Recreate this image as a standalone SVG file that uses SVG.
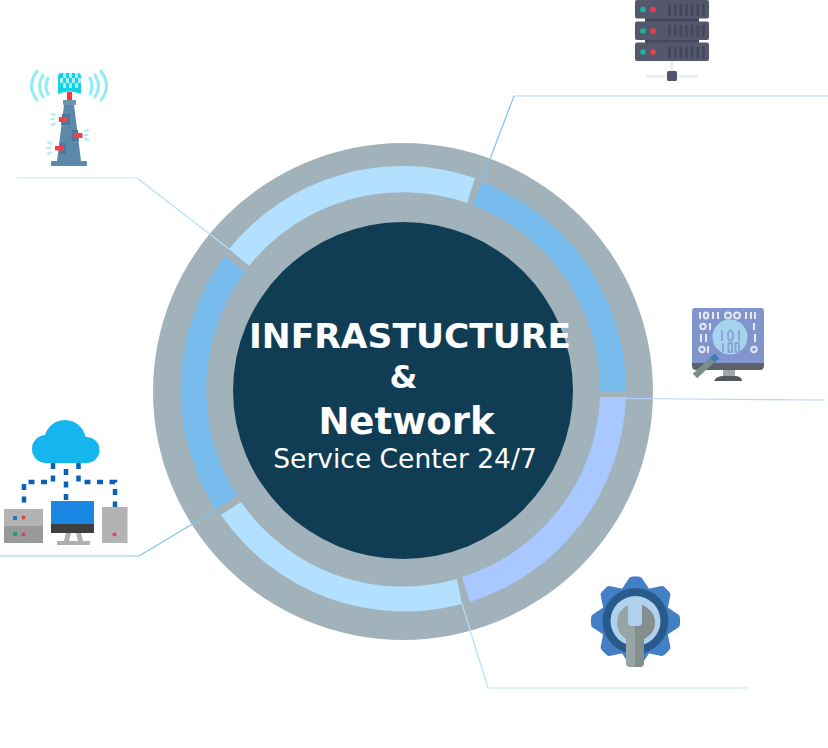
<svg xmlns="http://www.w3.org/2000/svg" width="828" height="748" viewBox="0 0 828 748">
<defs><style>
.t{font-family:"DejaVu Sans",sans-serif;fill:#fff;text-anchor:middle}
.b{font-weight:700}
.w{fill:none;stroke:#8feef5;stroke-width:3;stroke-linecap:round}
.w2{fill:none;stroke:#a5f0f6;stroke-width:2;stroke-linecap:round}
.d{fill:none;stroke:#0a62b8;stroke-width:4.500;stroke-dasharray:6 6.500}
.c{fill:none;stroke-width:1.200}
.bar{fill:#45485a}
</style>
<path id="tooth" d="M-15 -30L-7 -42Q-6 -44.500 -3 -44.500H3Q6 -44.500 7 -42L15 -30Z" fill="#437fc5"/>
</defs>
<rect width="828" height="748" fill="#fff"/>
<g id="ring">
<ellipse cx="403" cy="391.500" rx="250" ry="248.500" fill="#a2b2ba"/>
<path id="seg-top" d="M229 249A223 223 0 0 1 475 178L467 203A197 197 0 0 0 249 266Z" fill="#b3e0ff"/>
<path id="seg-right" d="M482 182A223 223 0 0 1 626 392L600 392A197 197 0 0 0 472 205Z" fill="#78bdee"/>
<path id="seg-lower-right" d="M626 397A223 223 0 0 1 470 602L462 577A197 197 0 0 0 600 397Z" fill="#a8c8ff"/>
<path id="seg-bottom" d="M462 604A223 223 0 0 1 221 515L241 502A197 197 0 0 0 457 579Z" fill="#b3e0ff"/>
<path id="seg-left" d="M216 510A223 223 0 0 1 225 256L245 272A197 197 0 0 0 237 495Z" fill="#78bdee"/>
<ellipse cx="403" cy="390.500" rx="170" ry="168.500" fill="#113d54"/>
</g>
<g id="connectors">
<path class="c" stroke="#80c3f0" d="M482 180L514 96"/>
<path class="c" stroke="#a8d7f7" d="M514 96H828"/>
<path class="c" stroke="#b3e0ff" d="M229 249L137 178"/>
<path class="c" stroke="#bfe4fb" d="M137 178H17"/>
<path class="c" stroke="#80c3f0" d="M216 510L139 556"/>
<path class="c" stroke="#93cdf3" d="M139 556H0"/>
<path class="c" stroke="#bcd3ff" d="M626 398.500L825 400"/>
<path class="c" stroke="#b3e0ff" d="M462 604L488 688"/>
<path class="c" stroke="#c4e6fc" d="M488 688H748"/>
</g>
<g id="title">
<text class="t b" x="410" y="348" font-size="34.500">INFRASTUCTURE</text>
<text class="t b" x="403.500" y="388" font-size="32">&amp;</text>
<text class="t b" x="406.500" y="434" font-size="37">Network</text>
<text class="t" x="405" y="468" font-size="26.500">Service Center 24/7</text>
</g>
<g id="server">
<rect class="bar" x="645" y="17" width="54" height="6"/>
<rect class="bar" x="645" y="38" width="54" height="6"/>
<rect x="670.500" y="61" width="3" height="12" fill="#eceeef"/>
<rect x="646" y="75" width="52" height="3" rx="1.500" fill="#eceeef"/>
<rect x="667" y="71" width="10" height="10" rx="1.500" fill="#51546a"/>
<g fill="#54586d">
<rect x="635" y="0" width="74" height="18.500" rx="2"/>
<rect x="635" y="21.500" width="74" height="18.500" rx="2"/>
<rect x="635" y="42.500" width="74" height="18.500" rx="2"/>
</g>
<g fill="#1ab49f"><circle cx="643" cy="9.500" r="2.800"/><circle cx="643" cy="31" r="2.800"/><circle cx="643" cy="52" r="2.800"/></g>
<g fill="#ee4048"><circle cx="653" cy="9.500" r="2.800"/><circle cx="653" cy="31" r="2.800"/><circle cx="653" cy="52" r="2.800"/></g>
<g stroke="#45485a" stroke-width="2.700" fill="none">
<path d="M669.500 4v12M675.200 4v12M680.800 4v12M686.500 4v12M692.200 4v12M697.800 4v12M703.500 4v12"/>
<path d="M669.500 25v12M675.200 25v12M680.800 25v12M686.500 25v12M692.200 25v12M697.800 25v12M703.500 25v12"/>
<path d="M669.500 46.500v12M675.200 46.500v12M680.800 46.500v12M686.500 46.500v12M692.200 46.500v12M697.800 46.500v12M703.500 46.500v12"/>
</g>
</g>
<g id="tower">
<path class="w" d="M37 71Q26 86 37 100M43 75Q36 86 43 97M48 78Q44 86 48 94"/>
<path class="w" d="M101 71Q112 86 101 100M95 75Q102 86 95 97M90 78Q94 86 90 94"/>
<path d="M61 73H78Q81 73 81 77V94Q69 89 58 94V77Q58 73 61 73Z" fill="#13d2e4"/>
<path d="M63 73h3v5h-3zM69 73h3v5h-3zM75 73h3v5h-3zM60 78h3v5h-3zM66 78h3v5h-3zM72 78h3v5h-3zM78 78h3v5h-3zM63 83h3v5h-3zM69 83h3v5h-3zM75 83h3v5h-3z" fill="#a9eef5"/>
<rect x="67" y="92" width="5" height="8" fill="#f0363f"/>
<rect x="63" y="100" width="13" height="5" rx="1" fill="#6d93b1"/>
<path d="M64 105H74L81 161H57Z" fill="#5c89ab"/>
<rect x="51" y="161" width="36" height="5" rx="1" fill="#5c89ab"/>
<path d="M62 114h8v11h-9zM72 130h6l1 11h-7zM60 143h6v11h-7z" fill="#4e7696"/>
<rect x="59" y="117" width="9" height="5" fill="#f2404a"/>
<rect x="74" y="133" width="8.500" height="5" fill="#f2404a"/>
<rect x="55" y="146" width="8.500" height="4.500" fill="#f2404a"/>
<path class="w2" d="M52 114l3 1M51 119h3M52 125l3-1.500M88 130l-3 1M87 135h-3M88 140l-3-1.500M48 142l3 1.500M47 148h3M48 154l3-1.500"/>
</g>
<g id="monitor">
<path d="M692 362H764V366Q764 370 760 370H696Q692 370 692 366Z" fill="#5d6168"/>
<path d="M695 308H761Q764 308 764 311V363H692V311Q692 308 695 308Z" fill="#8294cc"/>
<rect x="723" y="370" width="12" height="6" fill="#a4a7aa"/>
<path d="M714 381Q716 376 724 376H734Q742 376 742 381Z" fill="#55585d"/>
<g fill="none" stroke="#e2e8f4" stroke-width="2">
<path d="M700 312v7M713 312v7M718 312v7M746 312v7M751 312v7M755 312v7M710 323v7M754 323v7M701 334v8M706 334v8M755 334v8M708 346v7"/>
<ellipse cx="706" cy="315.500" rx="2.300" ry="3"/><ellipse cx="728" cy="315.500" rx="3" ry="3"/><ellipse cx="737" cy="315.500" rx="3" ry="3"/>
<circle cx="703" cy="326.500" r="2.700"/><circle cx="702" cy="349.500" r="2.700"/><circle cx="754" cy="349.500" r="2.700"/>
</g>
<circle cx="730" cy="337" r="17.500" fill="#a6d3ee"/>
<g fill="none" stroke="#8aa5d6" stroke-width="2">
<path d="M722 330v11M739 330v11M723 343v9"/>
<ellipse cx="730.500" cy="335.500" rx="2.500" ry="5"/><rect x="728.500" y="343" width="3.500" height="9"/><rect x="735.500" y="343" width="3.500" height="9"/>
</g>
<path d="M711 361L717 356" stroke="#3f7bbd" stroke-width="6.500" fill="none"/>
<path d="M695 376L712 360" stroke="#7b8e8a" stroke-width="6.500" fill="none"/>
</g>
<g id="cloud">
<g fill="#15b5ee">
<circle cx="46" cy="449" r="14"/><circle cx="86.500" cy="450" r="13"/><circle cx="65" cy="441" r="21"/><rect x="46" y="442" width="41" height="21"/>
</g>
<path class="d" d="M53 463V482H24V509"/>
<path class="d" d="M66 469V502"/>
<path class="d" d="M78.500 463V482H115V507"/>
<rect x="4" y="509" width="39" height="17" fill="#b3b3b3"/>
<rect x="4" y="526" width="39" height="17" fill="#999"/>
<rect x="13" y="516" width="4" height="4" fill="#1a77c9"/>
<circle cx="23.500" cy="517.500" r="2" fill="#cf4a57"/>
<rect x="13" y="532" width="4" height="4" fill="#13a86e"/>
<circle cx="23.500" cy="534.500" r="2" fill="#cf4a57"/>
<rect x="51" y="501" width="43" height="24" fill="#1a88e2"/>
<rect x="51" y="524" width="43" height="9" fill="#3f3f3f"/>
<path d="M66 533L64 541H69L71 533ZM76 533L78 541H83L81 533Z" fill="#b0b0b0"/>
<rect x="57" y="541" width="33" height="4" fill="#b0b0b0"/>
<rect x="102" y="507" width="25.500" height="36" fill="#b3b3b3"/>
<circle cx="114.500" cy="534.500" r="2" fill="#cf4a57"/>
</g>
<g id="gear">
<use href="#tooth" transform="translate(635.500 621)"/>
<use href="#tooth" transform="translate(635.500 621) rotate(45)"/>
<use href="#tooth" transform="translate(635.500 621) rotate(90)"/>
<use href="#tooth" transform="translate(635.500 621) rotate(135)"/>
<use href="#tooth" transform="translate(635.500 621) rotate(180)"/>
<use href="#tooth" transform="translate(635.500 621) rotate(225)"/>
<use href="#tooth" transform="translate(635.500 621) rotate(270)"/>
<use href="#tooth" transform="translate(635.500 621) rotate(315)"/>
<circle cx="635.500" cy="621" r="33" fill="#295a8c"/>
<circle cx="635.500" cy="621" r="25" fill="#b0d1ee"/>
<path d="M628 605V622Q628 626 632 626H639Q642 626 642 622V605Q655 611 655 623Q655 633 644 639V663Q644 667 640 667H630Q626 667 626 663V639Q617 633 617 623Q617 611 628 605Z" fill="#97a5a6"/>
<path d="M635 626H639Q642 626 642 622V605Q655 611 655 623Q655 633 644 639V663Q644 667 640 667H635Z" fill="#848f8d"/>
</g>
</svg>
